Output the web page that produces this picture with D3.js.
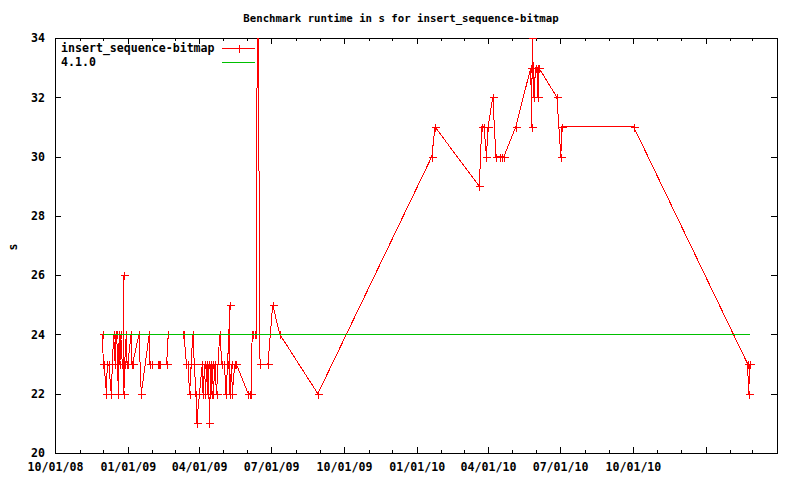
<!DOCTYPE html>
<html><head><meta charset="utf-8">
<script src="https://cdn.jsdelivr.net/npm/d3@7"></script>
<style>
body{margin:0;background:#fff}
text{font-family:"DejaVu Sans Mono","Liberation Mono",monospace;font-weight:bold;font-size:11.6px;fill:#000}
</style>
</head><body>
<svg id="c" width="800" height="480"></svg>
<script>
const chartTitle = "Benchmark runtime in s for insert_sequence-bitmap";
const seriesName = "insert_sequence-bitmap";
const baselineName = "4.1.0";
const runDates = [
 "2008-11-30","2008-12-01","2008-12-02","2008-12-05","2008-12-06","2008-12-08","2008-12-11","2008-12-14",
 "2008-12-16","2008-12-17","2008-12-18","2008-12-20","2008-12-21","2008-12-22","2008-12-23","2008-12-25",
 "2008-12-26","2008-12-27","2008-12-27","2008-12-28","2008-12-30","2008-12-31","2009-01-01","2009-01-05",
 "2009-01-06","2009-01-07","2009-01-15","2009-01-18","2009-01-28","2009-01-29","2009-02-01","2009-02-08",
 "2009-02-09","2009-02-10","2009-02-11","2009-02-19","2009-02-21",
 "2009-03-12","2009-03-13","2009-03-16","2009-03-18","2009-03-20","2009-03-22","2009-03-24","2009-03-26",
 "2009-03-28","2009-03-29","2009-04-05","2009-04-06","2009-04-08","2009-04-09","2009-04-11","2009-04-12",
 "2009-04-13","2009-04-14","2009-04-16","2009-04-17","2009-04-18","2009-04-19","2009-04-21","2009-04-23",
 "2009-04-27","2009-04-30","2009-05-03","2009-05-05","2009-05-07","2009-05-10","2009-05-10","2009-05-12",
 "2009-05-13","2009-05-16","2009-05-18","2009-06-02","2009-06-04","2009-06-06","2009-06-07","2009-06-08",
 "2009-06-10","2009-06-12","2009-06-14","2009-06-17","2009-06-27","2009-07-03","2009-07-12","2009-08-29",
 "2010-01-20","2010-01-24","2010-03-21","2010-03-24","2010-03-27","2010-03-30","2010-04-01","2010-04-07",
 "2010-04-11","2010-04-16","2010-04-19","2010-04-21","2010-05-06","2010-05-25","2010-05-26","2010-05-27",
 "2010-05-29","2010-05-31","2010-06-03","2010-06-03","2010-06-04","2010-06-27","2010-07-02","2010-07-03",
 "2010-10-02","2011-02-23","2011-02-24","2011-02-26"
];
const runtimes = [
 24,23,23,22,23,23,22,24,
 23,24,24,22,24,23,24,23,
 23,26,22,23,24,23,23,24,
 23,23,24,22,24,23,23,23,
 23,23,23,23,24,
 24,24,23,23,22,23,24,23,
 22,21,23,22,23,22,23,22,
 23,21,23,22,23,22,23,22,
 24,23,23,22,23,25,22,23,
 22,23,23,22,22,22,24,24,
 24,24,38,23,23,25,24,22,
 30,31,29,31,31,30,31,32,
 30,30,30,30,31,33,31,34,
 32,33,33,32,33,32,30,31,
 31,23,22,23
];
const baselineDates = ["2008-11-30","2011-02-26"];
const baselineValues = [24, 24];
const yTicks = [20,22,24,26,28,30,32,34];
const xTickLabels = ["10/01/08","01/01/09","04/01/09","07/01/09","10/01/09","01/01/10","04/01/10","07/01/10","10/01/10"];
const xDomain = ["2008-10-01","2011-04-01"];
const yDomain = [20, 34];

const parse = d3.utcParse("%Y-%m-%d");
const fmt = d3.utcFormat("%m/%d/%y");
const L = 55, R = 777, T = 38, B = 453;
const svg = d3.select("#c");

const x = d3.scaleUtc().domain(xDomain.map(parse)).range([L, R]);
const y = d3.scaleLinear().domain(yDomain).range([B, T]);

const months = d3.utcMonth.range(x.domain()[0], d3.utcDay.offset(x.domain()[1], 1));
const majors = months.filter(d => d.getUTCMonth() % 3 === 0);
const minors = months.filter(d => d.getUTCMonth() % 3 !== 0);

function clean(g){ g.select(".domain").remove(); g.selectAll("line").attr("stroke","#000").attr("shape-rendering","crispEdges"); }

// bottom axis
svg.append("g").attr("transform",`translate(0,${B})`)
  .call(d3.axisBottom(x).tickValues(minors).tickSize(-3).tickFormat(""))
  .call(clean);
svg.append("g").attr("transform",`translate(0,${B})`)
  .call(d3.axisBottom(x).tickValues(majors).tickSize(-6).tickPadding(10)
     .tickFormat(d => xTickLabels.includes(fmt(d)) ? fmt(d) : ""))
  .call(clean)
  .call(g => g.selectAll("text").attr("font-family",null).attr("font-size",null));
// top axis (mirror)
svg.append("g").attr("transform",`translate(0,${T})`)
  .call(d3.axisTop(x).tickValues(minors).tickSize(-3).tickFormat("")).call(clean);
svg.append("g").attr("transform",`translate(0,${T})`)
  .call(d3.axisTop(x).tickValues(majors).tickSize(-6).tickFormat("")).call(clean);
// left axis
svg.append("g").attr("transform",`translate(${L},0)`)
  .call(d3.axisLeft(y).tickValues(yTicks).tickSize(-6).tickPadding(10).tickFormat(d3.format("d")))
  .call(clean)
  .call(g => g.selectAll("text").attr("font-family",null).attr("font-size",null));
// right axis (mirror)
svg.append("g").attr("transform",`translate(${R},0)`)
  .call(d3.axisRight(y).tickValues(yTicks).tickSize(-6).tickFormat("")).call(clean);

// border
svg.append("rect").attr("x",L+0.5).attr("y",T+0.5).attr("width",R-L).attr("height",B-T)
  .attr("fill","none").attr("stroke","#000").attr("shape-rendering","crispEdges");

// clip
svg.append("clipPath").attr("id","plot").append("rect")
  .attr("x",L).attr("y",T).attr("width",R-L+1).attr("height",B-T+1);
const plot = svg.append("g").attr("clip-path","url(#plot)");

const runs = runDates.map((d,i) => ({date: parse(d), value: runtimes[i]}));
const base = baselineDates.map((d,i) => ({date: parse(d), value: baselineValues[i]}));
const line = d3.line().x(d => x(d.date)).y(d => y(d.value));

plot.append("path").datum(runs).attr("d", line).attr("fill","none")
  .attr("stroke","#ff0000").attr("stroke-width",1).attr("shape-rendering","crispEdges");

function plus(cx, cy){
  const px = Math.round(cx)+0.5, py = Math.round(cy)+0.5;
  return `M${px-4},${py}H${px+4}M${px},${py-4}V${py+4}`;
}
plot.append("path")
  .attr("d", runs.filter(d => d.value <= yDomain[1]).map(d => plus(x(d.date), y(d.value))).join(""))
  .attr("fill","none").attr("stroke","#ff0000").attr("stroke-width",1).attr("shape-rendering","crispEdges");

plot.append("path").datum(base).attr("d", line).attr("fill","none")
  .attr("stroke","#00c000").attr("stroke-width",1).attr("shape-rendering","crispEdges");

// title
svg.append("text").attr("x",401).attr("y",22).attr("text-anchor","middle")
  .style("font-size","10.7px").text(chartTitle);
// y label
svg.append("text").attr("transform","translate(17,247) rotate(-90)").attr("text-anchor","middle").text("s");

// legend
const lg = svg.append("g");
lg.append("text").attr("x",61).attr("y",52).text(seriesName);
lg.append("text").attr("x",61).attr("y",66).text(baselineName);
lg.append("line").attr("x1",222).attr("x2",255).attr("y1",48.5).attr("y2",48.5)
  .attr("stroke","#ff0000").attr("shape-rendering","crispEdges");
lg.append("path").attr("d", plus(238.5, 48)).attr("stroke","#ff0000").attr("shape-rendering","crispEdges");
lg.append("line").attr("x1",222).attr("x2",255).attr("y1",62.5).attr("y2",62.5)
  .attr("stroke","#00c000").attr("shape-rendering","crispEdges");
</script>
</body></html>
